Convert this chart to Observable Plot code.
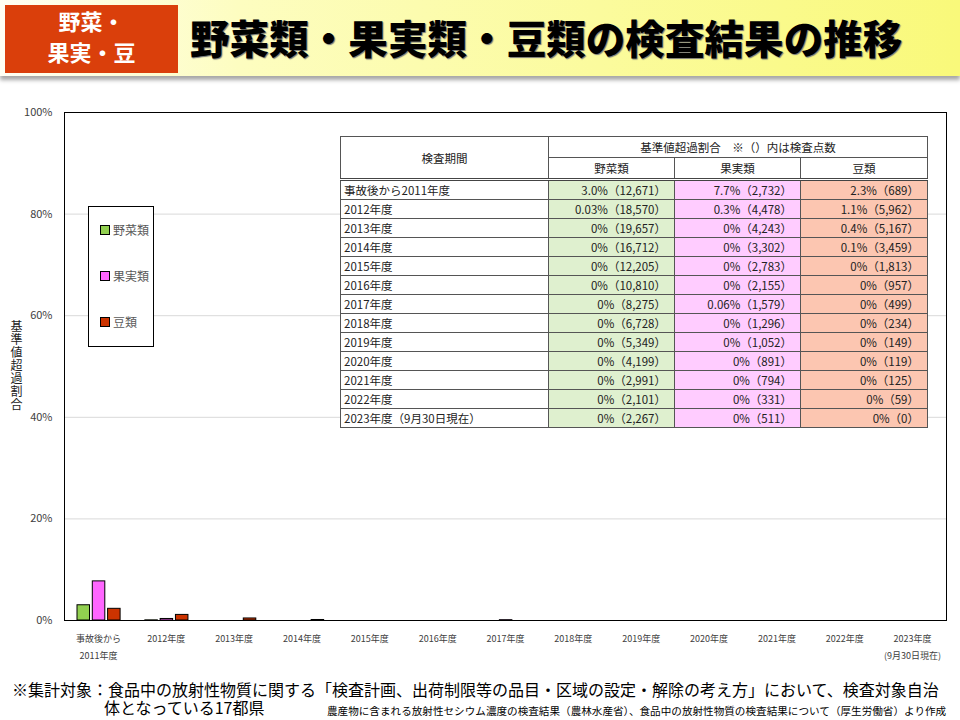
<!DOCTYPE html>
<html><head><meta charset="utf-8">
<script src="https://cdn.jsdelivr.net/npm/d3@7"></script>
<script src="https://cdn.jsdelivr.net/npm/@observablehq/plot@0.6"></script>
<style>
body{margin:0;background:#fff;font-family:"Noto Sans CJK JP","Noto Sans",sans-serif;}
#root{position:relative;width:960px;height:720px;overflow:hidden;background:#fff}
#banner{position:absolute;left:0;top:0;width:960px;height:76px;background:linear-gradient(to right,#fffff4 0%,#fdfdc0 25%,#f9f97a 100%);box-shadow:0 4px 4px rgba(0,0,0,0.35)}
#tag{position:absolute;left:5px;top:5px;width:173px;height:68px;background:#da3f0b;color:#fff;font-weight:bold;font-size:22px;line-height:31px;text-align:center;padding-top:0px;box-sizing:border-box}
#title{position:absolute;left:190px;top:12px;font-weight:900;font-size:39.6px;line-height:50px;color:#000;text-shadow:1px 1px 1px #777;white-space:nowrap}
#chart{position:absolute;left:0;top:100px}
#ytitle{position:absolute;left:9px;top:320px;writing-mode:vertical-rl;text-orientation:upright;font-size:12px;color:#222;letter-spacing:1px;line-height:14px}
#legend{position:absolute;left:88px;top:206px;width:66px;height:141px;border:1px solid #000;box-sizing:border-box;background:#fff}
.li{position:absolute;left:11px;font-size:12px;color:#595959;line-height:14px;white-space:nowrap}
.li span{display:inline-block;width:8px;height:8px;border:1px solid #000;margin-right:3px;vertical-align:0px}
table{position:absolute;left:340px;top:136px;border-collapse:collapse;table-layout:fixed;font-size:11.5px;color:#222;background:#fff}
td,th{border:1px solid #555;padding:0;white-space:nowrap;overflow:hidden;font-weight:normal}
th{text-align:center}
td{height:18px;line-height:18px}
td.l{text-align:left;padding-left:3px}
td.v{text-align:right;padding-right:8px}
tr.hb th{border-bottom:3px double #444}
#note{position:absolute;left:12px;top:681px;font-size:16px;line-height:17.5px;color:#000;white-space:nowrap;padding-left:92px;text-indent:-92px}
#src{position:absolute;left:327px;top:704px;font-size:10.6px;line-height:13px;color:#000;white-space:nowrap}
</style></head><body><div id="root">
<div id="banner"></div>
<div id="tag">野菜・<br>果実・豆</div>
<div id="title">野菜類・果実類・豆類の検査結果の推移</div>
<div id="chart"></div>
<div id="ytitle"></div>
<div id="legend"></div>
<div id="tablewrap"></div>
<div id="note">※集計対象：食品中の放射性物質に関する「検査計画、出荷制限等の品目・区域の設定・解除の考え方」において、検査対象自治<br>体となっている17都県</div>
<div id="src">農産物に含まれる放射性セシウム濃度の検査結果（農林水産省）、食品中の放射性物質の検査結果について（厚生労働省）より作成</div>
</div>
<script>
// ---- data ----
const yTitle = "基準値超過割合";
const axisPeriods = ["事故後から\n2011年度","2012年度","2013年度","2014年度","2015年度","2016年度","2017年度","2018年度","2019年度","2020年度","2021年度","2022年度","2023年度\n(9月30日現在)"];
const tablePeriods = ["事故後から2011年度","2012年度","2013年度","2014年度","2015年度","2016年度","2017年度","2018年度","2019年度","2020年度","2021年度","2022年度","2023年度（9月30日現在）"];
const seriesNames = ["野菜類","果実類","豆類"];
const seriesColors = ["#92d050","#ff66ff","#cc3300"];
const cellColors = ["#dff0cf","#ffccff","#fcc6b1"];
const vegRates   = ["3.0","0.03","0","0","0","0","0","0","0","0","0","0","0"];
const fruitRates = ["7.7","0.3","0","0","0","0","0.06","0","0","0","0","0","0"];
const beanRates  = ["2.3","1.1","0.4","0.1","0","0","0","0","0","0","0","0","0"];
const vegCounts   = [12671,18570,19657,16712,12205,10810,8275,6728,5349,4199,2991,2101,2267];
const fruitCounts = [2732,4478,4243,3302,2783,2155,1579,1296,1052,891,794,331,511];
const beanCounts  = [689,5962,5167,3459,1813,957,499,234,149,119,125,59,0];
const yTicks = [0,20,40,60,80,100];

const rates = [vegRates, fruitRates, beanRates];
const counts = [vegCounts, fruitCounts, beanCounts];
const rows = [];
seriesNames.forEach((s,i)=>axisPeriods.forEach((p,j)=>rows.push({period:p,series:s,value:parseFloat(rates[i][j])})));

document.getElementById("ytitle").textContent = yTitle;

// ---- chart ----
const band = 882/13;
const bw = 12.5;
const starts = [13, 28.3, 43.6];
const barMarks = seriesNames.map((s,i)=>Plot.barY(rows.filter(d=>d.series===s && d.value>0),{
  x:"period", y:"value", fill:seriesColors[i], stroke:"#000", strokeWidth:1,
  insetLeft:starts[i], insetRight:band-starts[i]-bw
}));
const chart = Plot.plot({
  width:960, height:580,
  marginTop:12, marginBottom:60, marginLeft:64, marginRight:14,
  style:{fontFamily:"'Noto Sans CJK JP','Noto Sans',sans-serif", background:"transparent"},
  x:{domain:axisPeriods, padding:0, round:false, label:null},
  y:{domain:[0,100], label:null},
  marks:[
    Plot.gridY(yTicks.filter(t=>t>0&&t<100),{stroke:"#d9d9d9", strokeOpacity:1}),
    ...barMarks,
    Plot.frame({stroke:"#000", strokeWidth:1}),
    Plot.axisY(yTicks,{tickSize:0, tickPadding:12, tickFormat:d=>d+"%", fontSize:11, color:"#404040", label:null}),
    Plot.axisX({tickSize:0, tickPadding:9, fontSize:9, lineHeight:1.9, color:"#404040", label:null})
  ]
});
document.getElementById("chart").appendChild(chart);

// ---- legend ----
const leg = document.getElementById("legend");
const legTops = [16, 62, 108];
seriesNames.forEach((s,i)=>{
  const d=document.createElement("div");d.className="li";d.style.top=legTops[i]+"px";
  d.innerHTML=`<span style="background:${seriesColors[i]}"></span>${s}`;leg.appendChild(d);
});

// ---- table ----
const fmt = d3.format(",");
let html = `<table><colgroup><col style="width:208px"><col style="width:126px"><col style="width:126px"><col style="width:127px"></colgroup>`;
html += `<tr style="height:21px"><th rowspan="2" style="border-bottom:3px double #444">検査期間</th><th colspan="3">基準値超過割合　※（）内は検査点数</th></tr>`;
html += `<tr class="hb" style="height:22px">${seriesNames.map(s=>`<th>${s}</th>`).join("")}</tr>`;
tablePeriods.forEach((p,j)=>{
  html += `<tr><td class="l">${p}</td>${seriesNames.map((s,i)=>`<td class="v" style="background:${cellColors[i]}">${rates[i][j]}%（${fmt(counts[i][j])}）</td>`).join("")}</tr>`;
});
html += `</table>`;
document.getElementById("tablewrap").innerHTML = html;
</script>
</body></html>
